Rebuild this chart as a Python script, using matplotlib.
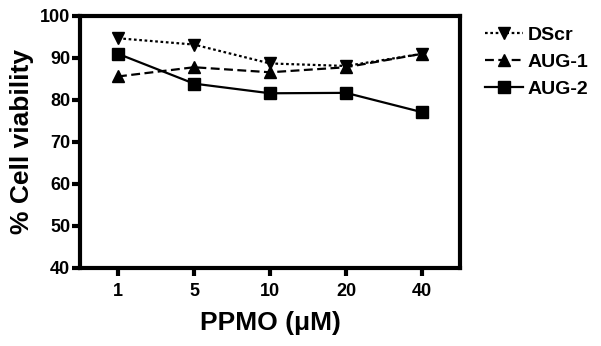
import numpy as np
import matplotlib
matplotlib.use("Agg")
import matplotlib.pyplot as plt

plt.rcParams['font.family'] = ['Liberation Sans', 'DejaVu Sans']
plt.rcParams['font.weight'] = 'bold'

# data
doses = ["1", "5", "10", "20", "40"]
dscr = [94.7, 93.2, 88.7, 88.1, 91.0]
aug1 = [85.6, 87.8, 86.6, 87.8, 91.0]
aug2 = [91.0, 83.9, 81.6, 81.7, 77.1]

x = np.arange(len(doses))

fig = plt.figure(figsize=(6.01, 3.46), dpi=100)
ax = fig.add_axes([80/601, 1 - 268/346, 380/601, 252/346])

ax.plot(x, dscr, linestyle=(0, (1.2, 1.2)), color='black', lw=1.6,
        marker='v', ms=8.5, label='DScr')
ax.plot(x, aug1, linestyle=(0, (4, 2)), color='black', lw=1.6,
        marker='^', ms=8.5, label='AUG-1')
ax.plot(x, aug2, linestyle='-', color='black', lw=1.6,
        marker='s', ms=8, label='AUG-2')

ax.set_xlim(-0.5, 4.5)
ax.set_ylim(40, 100)
ax.set_xticks(x)
ax.set_xticklabels(doses)
ax.set_yticks(np.arange(40, 101, 10))

for s in ax.spines.values():
    s.set_linewidth(3)
ax.tick_params(axis='both', direction='out', width=3, length=6,
               labelsize=13, pad=5)
ax.tick_params(axis='y', pad=1)

ax.set_xlabel('PPMO (\u03bcM)', fontsize=19, fontweight='bold', labelpad=8)
ax.set_ylabel('% Cell viability', fontsize=19, fontweight='bold', labelpad=4)

ax.legend(loc='upper left', bbox_to_anchor=(1.02, 1.03), frameon=False,
          fontsize=14, handlelength=1.95, handletextpad=0.25, labelspacing=0.5)

fig.savefig('out.png', dpi=100)
